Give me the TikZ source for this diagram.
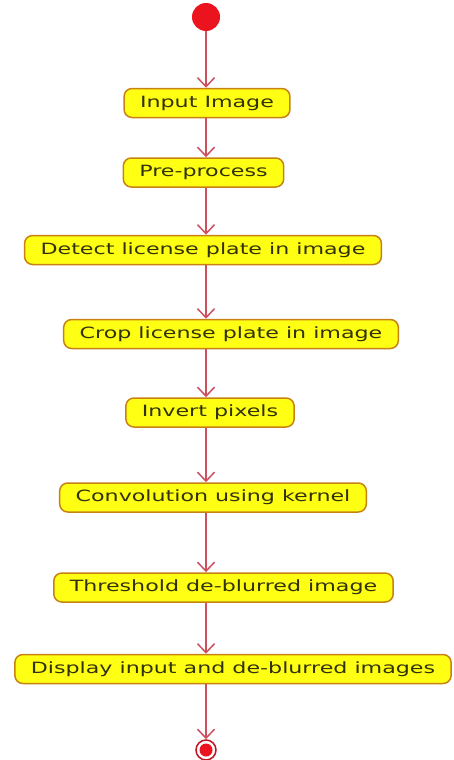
\documentclass[tikz,border=0pt]{standalone}
\usepackage{fontspec}
\setmainfont{DejaVu Sans}
\usetikzlibrary{arrows.meta}

\definecolor{actfill}{RGB}{255,255,20}
\definecolor{actdraw}{RGB}{200,130,20}
\definecolor{acttext}{RGB}{50,50,10}
\definecolor{flowred}{RGB}{205,80,95}
\definecolor{dotred}{RGB}{235,20,30}
\definecolor{ringred}{RGB}{190,20,30}

% wide, flat lettering as in the reference
\newcommand{\actlbl}[1]{\scalebox{1.43}[1]{#1}}

\begin{document}
\begin{tikzpicture}[x=1pt, y=-1pt, >={Straight Barb[length=9pt,width=17pt]},
    activity/.style={draw=actdraw, line width=1.5pt, fill=actfill,
      rounded corners=8pt, minimum height=29pt, inner xsep=16pt, inner ysep=0pt,
      text=acttext, font=\fontsize{15.5}{18}\selectfont},
    flow/.style={->, draw=flowred, line width=1.5pt}]
  \useasboundingbox (0,0) rectangle (453,760);

  % --- Start ---
  \node[circle, fill=dotred, minimum size=28pt, inner sep=0pt] (start) at (206,17) {};

  % --- Activities ---
  \node[activity] (inimg)  at (207,103)   {\actlbl{Input Image}};
  \node[activity] (prep)   at (203.5,172.5) {\actlbl{Pre-process}};
  \node[activity] (detect) at (203,250)   {\actlbl{Detect license plate in image}};
  \node[activity] (crop)   at (231,334)   {\actlbl{Crop license plate in image}};
  \node[activity] (invert) at (210,412.5) {\actlbl{Invert pixels}};
  \node[activity] (conv)   at (213,497.5) {\actlbl{Convolution using kernel}};
  \node[activity] (thresh) at (223.5,587.5) {\actlbl{Threshold de-blurred image}};
  \node[activity] (disp)   at (233,669)   {\actlbl{Display input and de-blurred images}};

  % --- End ---
  \node[circle, draw=ringred, line width=1.5pt, fill=white, minimum size=20pt, inner sep=0pt] (stop) at (206,750) {};
  \node[circle, fill=dotred, minimum size=13pt, inner sep=0pt] at (stop) {};

  % --- Control flow ---
  \draw[flow] (start) -- (start |- inimg.north);
  \draw[flow] (inimg.south -| start) -- (prep.north -| start);
  \draw[flow] (prep.south -| start) -- (detect.north -| start);
  \draw[flow] (detect.south -| start) -- (crop.north -| start);
  \draw[flow] (crop.south -| start) -- (invert.north -| start);
  \draw[flow] (invert.south -| start) -- (conv.north -| start);
  \draw[flow] (conv.south -| start) -- (thresh.north -| start);
  \draw[flow] (thresh.south -| start) -- (disp.north -| start);
  \draw[flow] (disp.south -| start) -- (stop);
\end{tikzpicture}
\end{document}
